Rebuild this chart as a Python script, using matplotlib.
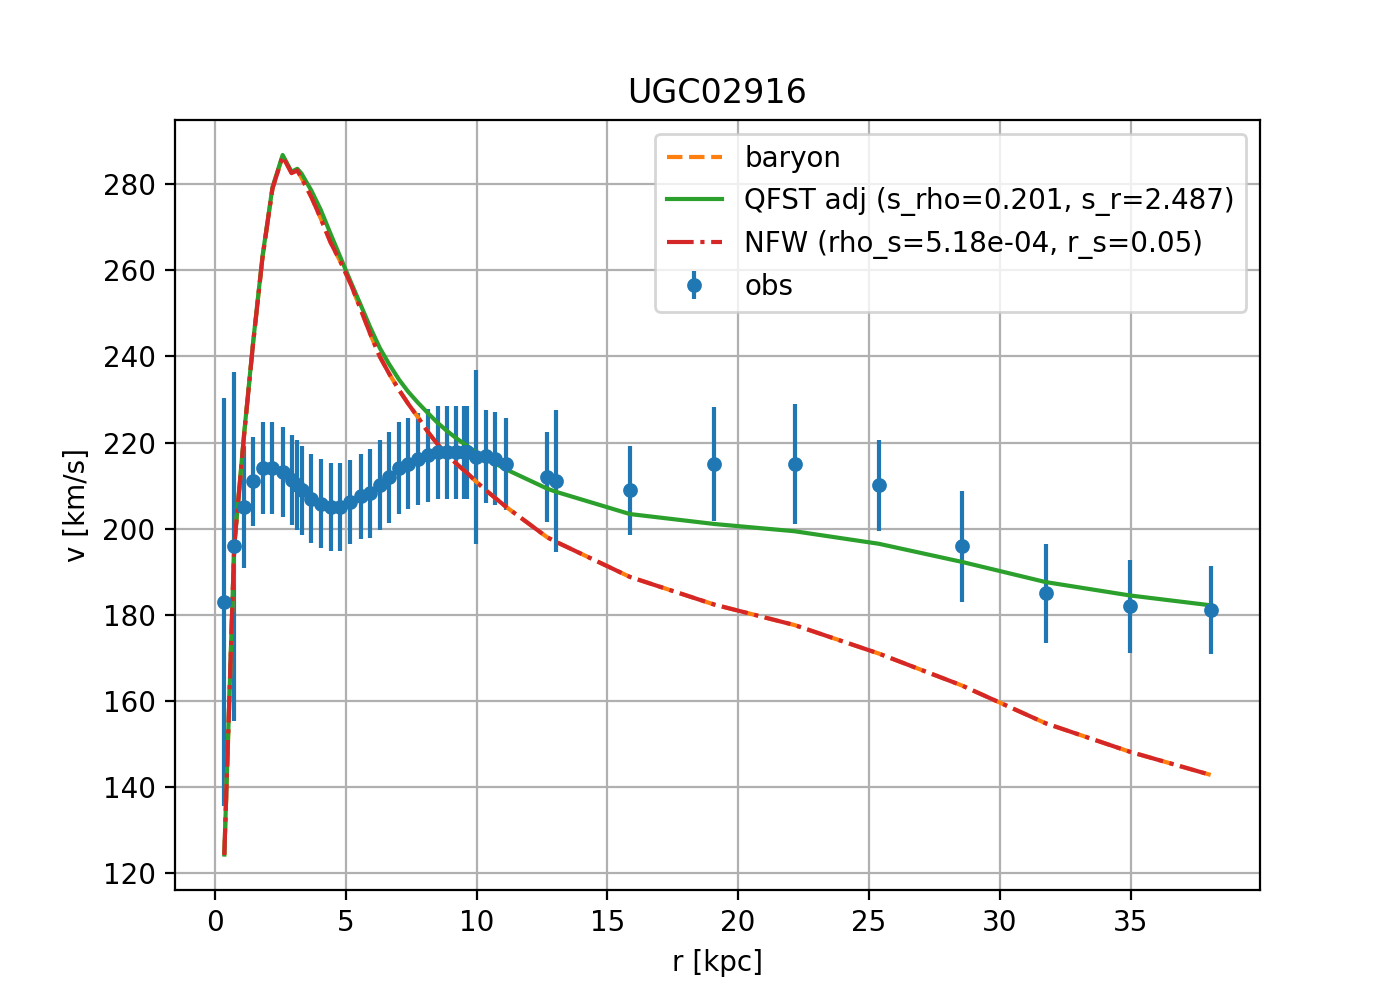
import matplotlib
matplotlib.use('Agg')
import matplotlib.pyplot as plt

# Galaxy name
galName = 'UGC02916'

# Observed rotation curve: radius [kpc], velocity [km/s], error [km/s]
r_obs = [0.36, 0.74, 1.12, 1.46, 1.82, 2.20, 2.59, 2.93, 3.15, 3.31,
         3.69, 4.05, 4.42, 4.80, 5.18, 5.57, 5.92, 6.30, 6.66, 7.04,
         7.39, 7.77, 8.15, 8.51, 8.87, 9.23, 9.53, 9.65, 9.97, 10.38,
         10.70, 11.12, 12.70, 13.02, 15.86, 19.07, 22.16, 25.37, 28.54, 31.75,
         34.96, 38.06]
v_obs = [183.0, 195.9, 205.0, 211.0, 214.0, 214.1, 213.2, 211.3, 210.1, 208.9,
         207.0, 205.8, 205.0, 205.0, 206.2, 207.5, 208.2, 210.1, 211.9, 214.1,
         215.1, 216.1, 217.1, 217.8, 217.8, 217.8, 217.8, 217.8, 216.7, 216.8,
         216.3, 215.0, 212.0, 211.1, 208.9, 215.0, 215.0, 210.1, 195.9, 185.0,
         182.0, 181.1]
e_obs = [47.4, 40.6, 14.1, 10.4, 10.7, 10.7, 10.5, 10.5, 10.5, 10.4,
         10.3, 10.3, 10.2, 10.2, 9.8, 9.8, 10.4, 10.5, 10.5, 10.6,
         10.6, 10.7, 10.8, 10.8, 10.8, 10.8, 10.8, 10.8, 20.2, 10.8,
         10.8, 10.6, 10.5, 16.5, 10.4, 13.2, 14.0, 10.6, 12.9, 11.5,
         10.8, 10.3]

# Model curves evaluated at the observed radii
v_bar  = [124.2, 196.0, 222.0, 243.0, 263.0, 279.0, 286.5, 282.6, 283.2, 281.5,
          277.0, 272.0, 266.5, 262.0, 257.0, 251.0, 245.5, 240.0, 236.0, 232.2,
          229.0, 225.8, 222.4, 219.6, 217.2, 215.1, 213.5, 212.9, 211.0, 208.8,
          207.2, 205.1, 198.0, 197.0, 188.8, 182.4, 177.6, 171.0, 163.6, 154.8,
          148.2, 142.8]
v_qfst = [124.3, 196.2, 222.3, 243.3, 263.3, 279.3, 286.8, 282.9, 283.6, 282.5,
          278.5, 274.0, 268.5, 263.0, 257.5, 252.0, 247.0, 242.0, 238.2, 234.6,
          231.8, 229.2, 226.8, 224.6, 222.7, 221.0, 219.7, 219.2, 217.8, 216.2,
          215.2, 213.8, 209.3, 208.6, 203.4, 201.1, 199.4, 196.5, 192.3, 187.6,
          184.5, 182.2]
v_nfw  = [124.2, 196.0, 222.0, 243.0, 263.0, 279.0, 286.5, 282.6, 283.2, 281.5,
          277.0, 272.0, 266.5, 262.0, 257.0, 251.0, 245.5, 240.0, 236.0, 232.2,
          229.0, 225.8, 222.4, 219.6, 217.2, 215.1, 213.5, 212.9, 211.0, 208.8,
          207.2, 205.1, 198.0, 197.0, 188.8, 182.4, 177.6, 171.0, 163.6, 154.8,
          148.2, 142.8]

s_rho, s_r = 0.201, 2.487
rho_s, r_s = 5.18e-04, 0.05

###   Plot   ###
fig, ax = plt.subplots(figsize=(7, 5), dpi=200)

ax.errorbar(r_obs, v_obs, yerr=e_obs, fmt='o', ms=4.3, color='C0', label='obs')
ax.plot(r_obs, v_bar, '--', color='C1', label='baryon')
ax.plot(r_obs, v_qfst, '-', color='C2', label=f'QFST adj (s_rho={s_rho:.3f}, s_r={s_r:.3f})')
ax.plot(r_obs, v_nfw, '-.', color='C3', label=f'NFW (rho_s={rho_s:.2e}, r_s={r_s:.2f})')

ax.set_xlabel('r [kpc]')
ax.set_ylabel('v [km/s]')
ax.set_title(galName)
ax.grid(True)
ax.legend(loc='upper right')

fig.savefig('out.png', dpi=200)
